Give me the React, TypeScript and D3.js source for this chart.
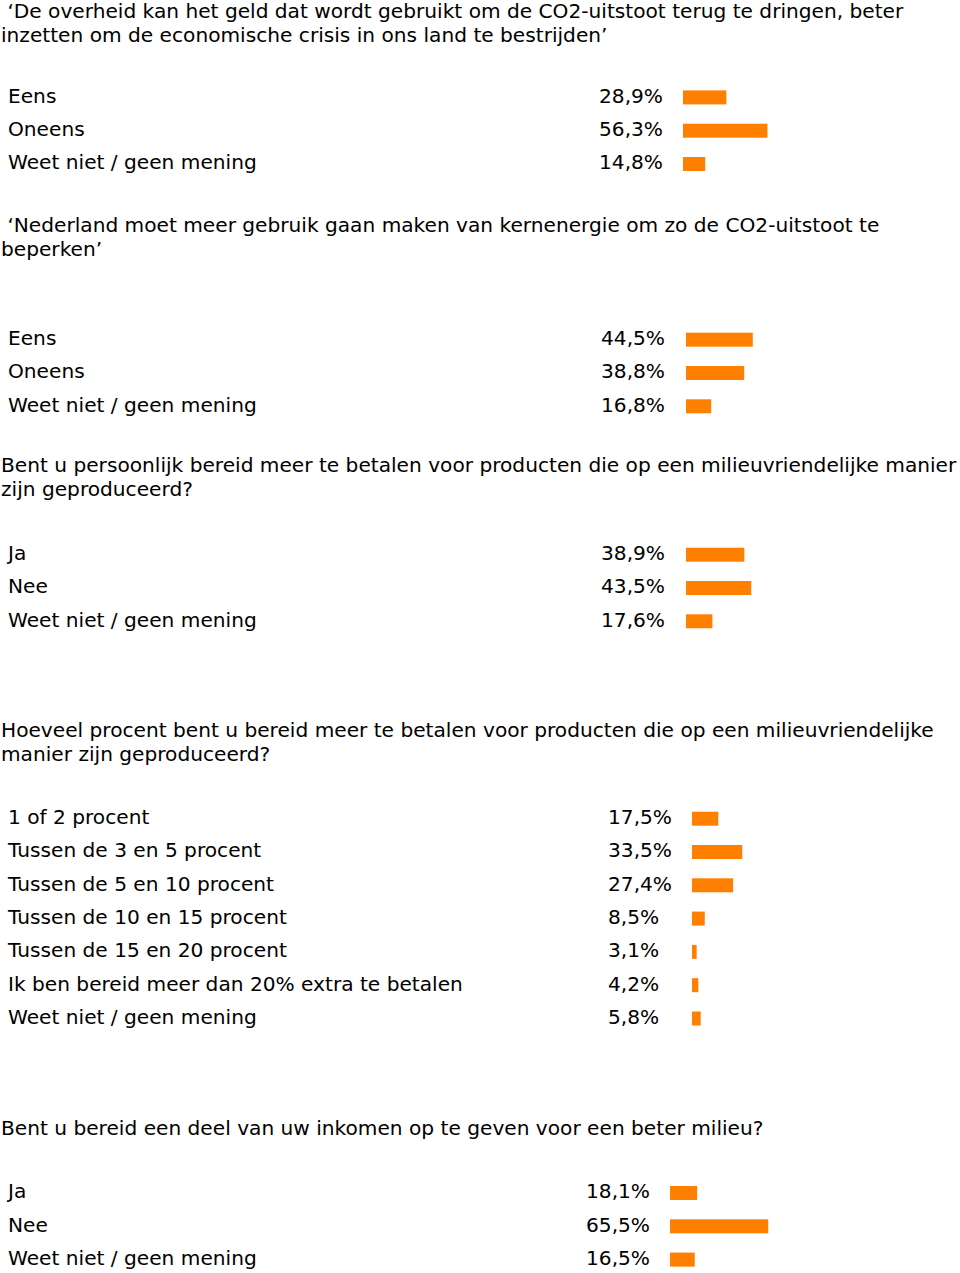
import React from "react";
import * as d3 from "d3";

const q1Title = [" \u2018De overheid kan het geld dat wordt gebruikt om de CO2-uitstoot terug te dringen, beter", "inzetten om de economische crisis in ons land te bestrijden\u2019"];
const q1Categories = ["Eens", "Oneens", "Weet niet / geen mening"];
const q1Values = [28.9, 56.3, 14.8];

const q2Title = [" \u2018Nederland moet meer gebruik gaan maken van kernenergie om zo de CO2-uitstoot te", "beperken\u2019"];
const q2Categories = ["Eens", "Oneens", "Weet niet / geen mening"];
const q2Values = [44.5, 38.8, 16.8];

const q3Title = ["Bent u persoonlijk bereid meer te betalen voor producten die op een milieuvriendelijke manier", "zijn geproduceerd?"];
const q3Categories = ["Ja", "Nee", "Weet niet / geen mening"];
const q3Values = [38.9, 43.5, 17.6];

const q4Title = ["Hoeveel procent bent u bereid meer te betalen voor producten die op een milieuvriendelijke", "manier zijn geproduceerd?"];
const q4Categories = [
  "1 of 2 procent",
  "Tussen de 3 en 5 procent",
  "Tussen de 5 en 10 procent",
  "Tussen de 10 en 15 procent",
  "Tussen de 15 en 20 procent",
  "Ik ben bereid meer dan 20% extra te betalen",
  "Weet niet / geen mening",
];
const q4Values = [17.5, 33.5, 27.4, 8.5, 3.1, 4.2, 5.8];

const q5Title = ["Bent u bereid een deel van uw inkomen op te geven voor een beter milieu?"];
const q5Categories = ["Ja", "Nee", "Weet niet / geen mening"];
const q5Values = [18.1, 65.5, 16.5];

// layout (positions only)
const layout = [
  { titleY: 17.5, rowY: 102.7, valueX: 599, barX: 683 },
  { titleY: 232, rowY: 345, valueX: 601, barX: 686 },
  { titleY: 472, rowY: 560, valueX: 601, barX: 686 },
  { titleY: 736.5, rowY: 824, valueX: 608, barX: 692 },
  { titleY: 1134.5, rowY: 1198.3, valueX: 586, barX: 670 },
];

const sections = [
  { title: q1Title, categories: q1Categories, values: q1Values },
  { title: q2Title, categories: q2Categories, values: q2Values },
  { title: q3Title, categories: q3Categories, values: q3Values },
  { title: q4Title, categories: q4Categories, values: q4Values },
  { title: q5Title, categories: q5Categories, values: q5Values },
];

const nl = d3.formatLocale({ decimal: ",", thousands: ".", grouping: [3], currency: ["€", ""] });
const fmt = nl.format(".1f");

export default function App() {
  const W = 960;
  const H = 1273;
  const lineH = 24;
  const rowStep = 33.3;
  const barH = 14;
  const x = d3.scaleLinear().domain([0, 100]).range([0, 150]);
  const font = "'DejaVu Sans', Verdana, sans-serif";
  const fs = 20.15;
  return (
    <svg
      width={W}
      height={H}
      style={{ position: "absolute", left: 0, top: 0, background: "#fff" }}
      fontFamily={font}
      fontSize={fs}
    >
      <rect width={W} height={H} fill="#fff" />
      {sections.map((s, si) => {
        const L = layout[si];
        return (
          <g key={si}>
            {s.title.map((t, ti) => (
              <text key={ti} x={1} y={L.titleY + ti * lineH} fill="#000" style={{ whiteSpace: "pre" }}>
                {t}
              </text>
            ))}
            {s.categories.map((c, ci) => {
              const y = L.rowY + ci * rowStep;
              return (
                <g key={ci}>
                  <text x={8} y={y} fill="#000">{c}</text>
                  <text x={L.valueX} y={y} fill="#000">{fmt(s.values[ci]) + "%"}</text>
                  <rect x={L.barX} y={y - 12.3} width={x(s.values[ci])} height={barH} fill="#ff7f00" />
                </g>
              );
            })}
          </g>
        );
      })}
    </svg>
  );
}
